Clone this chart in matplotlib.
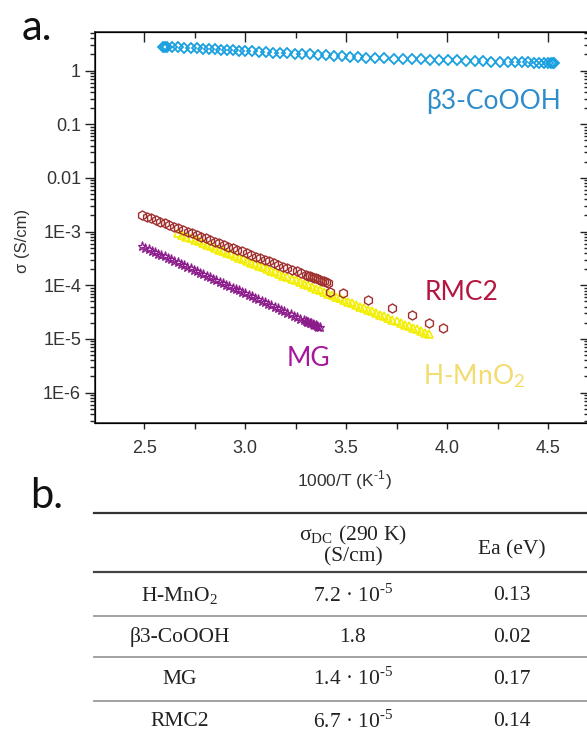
import numpy as np
import matplotlib.pyplot as plt
from matplotlib.ticker import MultipleLocator, LogLocator, NullFormatter
from matplotlib.lines import Line2D

# ---- panel a data: 1000/T (K^-1) and sigma (S/cm) ----
coooh_x = [2.595, 2.603, 2.615, 2.64, 2.67, 2.70, 2.73, 2.76, 2.79, 2.82, 2.85,
           2.88, 2.91, 2.94, 2.97, 3.00, 3.035, 3.07, 3.105, 3.14, 3.175, 3.21,
           3.245, 3.28, 3.32, 3.36, 3.40, 3.44, 3.48, 3.52, 3.56, 3.60, 3.645,
           3.69, 3.735, 3.78, 3.825, 3.87, 3.915, 3.96, 4.005, 4.05, 4.095,
           4.14, 4.18, 4.22, 4.26, 4.30, 4.335, 4.37, 4.40, 4.43, 4.455, 4.48,
           4.50, 4.515, 4.525, 4.53]
coooh_y = [2.80, 2.79, 2.77, 2.74, 2.70, 2.67, 2.63, 2.59, 2.56, 2.52, 2.49,
           2.45, 2.42, 2.39, 2.36, 2.32, 2.29, 2.25, 2.21, 2.17, 2.14, 2.10,
           2.07, 2.03, 2.00, 1.95, 1.92, 1.88, 1.85, 1.81, 1.77, 1.74, 1.72,
           1.70, 1.68, 1.66, 1.64, 1.62, 1.60, 1.58, 1.57, 1.55, 1.53,
           1.51, 1.50, 1.48, 1.47, 1.46, 1.44, 1.43, 1.42, 1.41, 1.40, 1.39,
           1.38, 1.38, 1.38, 1.37]

rmc2_x = [2.490, 2.5125, 2.535, 2.5575, 2.580, 2.6025, 2.625, 2.6475, 2.670,
          2.6925, 2.715, 2.7375, 2.760, 2.7825, 2.805, 2.8275, 2.850, 2.8725,
          2.895, 2.9175, 2.940, 2.9625, 2.985, 3.0075, 3.030, 3.0525, 3.075,
          3.0975, 3.120, 3.1425, 3.165, 3.1875, 3.210, 3.2325, 3.255, 3.2775,
          3.300, 3.31, 3.32, 3.33, 3.34, 3.35, 3.36, 3.37, 3.38, 3.39, 3.40,
          3.41, 3.42, 3.487, 3.611, 3.726, 3.825, 3.912, 3.981]
rmc2_y = [2.056e-3, 1.914e-3, 1.782e-3, 1.660e-3, 1.545e-3, 1.439e-3, 1.340e-3,
          1.247e-3, 1.161e-3, 1.081e-3, 1.005e-3, 9.35e-4, 8.71e-4, 8.11e-4,
          7.55e-4, 7.03e-4, 6.55e-4, 6.10e-4, 5.68e-4, 5.28e-4, 4.92e-4,
          4.58e-4, 4.27e-4, 3.97e-4, 3.70e-4, 3.44e-4, 3.21e-4, 2.99e-4,
          2.78e-4, 2.58e-4, 2.41e-4, 2.24e-4, 2.08e-4, 1.94e-4, 1.81e-4,
          1.68e-4, 1.57e-4, 1.52e-4, 1.47e-4, 1.43e-4, 1.38e-4, 1.34e-4,
          1.29e-4, 1.26e-4, 1.22e-4, 1.18e-4, 1.14e-4, 1.10e-4, 7.4e-5,
          7.1e-5, 5.4e-5, 3.7e-5, 2.8e-5, 2.0e-5, 1.6e-5]

mno2_x = [2.67, 2.69, 2.71, 2.73, 2.75, 2.77, 2.79, 2.81, 2.83, 2.85, 2.87,
          2.89, 2.91, 2.93, 2.95, 2.97, 2.99, 3.01, 3.03, 3.05, 3.07, 3.09,
          3.11, 3.13, 3.15, 3.17, 3.19, 3.21, 3.23, 3.25, 3.27, 3.29, 3.31,
          3.33, 3.35, 3.37, 3.39, 3.41, 3.43, 3.45, 3.47, 3.49, 3.51, 3.53,
          3.55, 3.57, 3.59, 3.61, 3.63, 3.65, 3.67, 3.69, 3.71, 3.73, 3.75,
          3.77, 3.79, 3.81, 3.83, 3.85, 3.87, 3.89, 3.91]
mno2_y = [9.33e-4, 8.70e-4, 8.11e-4, 7.56e-4, 7.05e-4, 6.58e-4, 6.13e-4,
          5.72e-4, 5.33e-4, 4.97e-4, 4.64e-4, 4.32e-4, 4.03e-4, 3.76e-4,
          3.51e-4, 3.27e-4, 3.05e-4, 2.84e-4, 2.65e-4, 2.47e-4, 2.31e-4,
          2.15e-4, 2.01e-4, 1.87e-4, 1.74e-4, 1.63e-4, 1.52e-4, 1.41e-4,
          1.32e-4, 1.23e-4, 1.15e-4, 1.07e-4, 9.97e-5, 9.30e-5, 8.67e-5,
          8.08e-5, 7.54e-5, 7.03e-5, 6.55e-5, 6.11e-5, 5.70e-5, 5.31e-5,
          4.95e-5, 4.62e-5, 4.31e-5, 4.02e-5, 3.75e-5, 3.49e-5, 3.26e-5,
          3.04e-5, 2.83e-5, 2.64e-5, 2.46e-5, 2.30e-5, 2.14e-5, 2.00e-5,
          1.86e-5, 1.74e-5, 1.62e-5, 1.51e-5, 1.41e-5, 1.31e-5, 1.22e-5]

mg_x = [2.490, 2.506, 2.522, 2.538, 2.554, 2.570, 2.586, 2.602, 2.618, 2.634,
        2.650, 2.666, 2.682, 2.698, 2.714, 2.730, 2.746, 2.762, 2.778, 2.794,
        2.810, 2.826, 2.842, 2.858, 2.874, 2.890, 2.906, 2.922, 2.938, 2.954,
        2.970, 2.986, 3.002, 3.018, 3.034, 3.050, 3.066, 3.082, 3.098, 3.114,
        3.130, 3.146, 3.162, 3.178, 3.194, 3.210, 3.226, 3.242, 3.258, 3.274,
        3.290, 3.300, 3.307, 3.314, 3.321, 3.328, 3.335, 3.342, 3.349, 3.356,
        3.363, 3.370]
mg_y = [5.37e-4, 5.04e-4, 4.73e-4, 4.44e-4, 4.17e-4, 3.91e-4, 3.67e-4,
        3.45e-4, 3.24e-4, 3.04e-4, 2.85e-4, 2.68e-4, 2.51e-4, 2.36e-4,
        2.21e-4, 2.08e-4, 1.95e-4, 1.83e-4, 1.72e-4, 1.61e-4, 1.51e-4,
        1.42e-4, 1.33e-4, 1.25e-4, 1.17e-4, 1.10e-4, 1.03e-4, 9.70e-5,
        9.10e-5, 8.54e-5, 8.02e-5, 7.53e-5, 7.06e-5, 6.63e-5, 6.22e-5,
        5.84e-5, 5.48e-5, 5.14e-5, 4.83e-5, 4.53e-5, 4.25e-5, 3.99e-5,
        3.75e-5, 3.52e-5, 3.30e-5, 3.10e-5, 2.91e-5, 2.73e-5, 2.56e-5,
        2.40e-5, 2.26e-5, 2.17e-5, 2.11e-5, 2.06e-5, 2.00e-5, 1.95e-5,
        1.89e-5, 1.84e-5, 1.79e-5, 1.74e-5, 1.70e-5, 1.65e-5]

x_ticks = [2.5, 3.0, 3.5, 4.0, 4.5]
y_ticks = [1e-6, 1e-5, 1e-4, 1e-3, 1e-2, 1e-1, 1]
y_tick_labels = ['1E-6', '1E-5', '1E-4', '1E-3', '0.01', '0.1', '1']

# ---- panel b table ----
HY = '\u2010'  # short hyphen for the exponents
table_header = ['', r'σ$_{\mathregular{DC}}$ (290 K)' + '\n(S/cm)', 'Ea (eV)']
table_names = [r'H-MnO$_{\mathregular{2}}$', 'β3-CoOOH', 'MG', 'RMC2']
table_sigma = [r'7.2 · 10$^{\mathregular{' + HY + '5}}$', '1.8',
               r'1.4 · 10$^{\mathregular{' + HY + '5}}$',
               r'6.7 · 10$^{\mathregular{' + HY + '5}}$']
table_ea = ['0.13', '0.02', '0.17', '0.14']

W, H = 587, 736
fig = plt.figure(figsize=(W / 100, H / 100), dpi=100)
plt.rcParams['mathtext.fontset'] = 'stix'

ax = fig.add_axes([95 / W, 1 - 423 / H, (588 - 95) / W, (423 - 32) / H])
xlim = (2.257, 4.698)
ylim = (2.72e-7, 5.25)

ax.plot(mno2_x, mno2_y, '^', ms=5.5, mfc='none', mec='#F2EE00', mew=1.2, zorder=2)
ax.plot(rmc2_x, rmc2_y, 'h', ms=6.5, mfc='none', mec='#A0302E', mew=1.0, zorder=3)
ax.plot(mg_x, mg_y, '*', ms=6.5, mfc='none', mec='#8C1C8C', mew=0.9, zorder=3)
ax.plot(coooh_x, coooh_y, 'D', ms=5.5, mfc='none', mec='#1AA0E0', mew=1.3, zorder=3)

ax.set_yscale('log')
ax.set_xlim(xlim)
ax.set_ylim(ylim)
ax.set_xticks(x_ticks)
ax.set_xticklabels([f'{v:.1f}' for v in x_ticks])
ax.xaxis.set_minor_locator(MultipleLocator(0.25))
ax.set_yticks(y_ticks)
ax.set_yticklabels(y_tick_labels)
ax.yaxis.set_minor_locator(LogLocator(base=10, subs=np.arange(2, 10), numticks=20))
ax.yaxis.set_minor_formatter(NullFormatter())

ax.tick_params(axis='both', which='both', direction='out', top=False, right=False,
               width=1.0, color='#222222', labelcolor='#333333', labelsize=13)
ax.tick_params(axis='y', which='major', length=7, pad=3)
ax.tick_params(axis='y', which='minor', length=3.5)
ax.tick_params(axis='x', which='major', length=4, pad=8)
ax.tick_params(axis='x', which='minor', length=4)
for lab in ax.get_xticklabels() + ax.get_yticklabels():
    lab.set_fontfamily('Liberation Sans')
for s in ax.spines.values():
    s.set_linewidth(1.1)
    s.set_color('#222222')

# mirrored ticks pointing inwards on top and right
axt = ax.twiny()
axt.set_xlim(xlim)
axt.set_xticks(x_ticks)
axt.xaxis.set_minor_locator(MultipleLocator(0.25))
axt.tick_params(axis='x', which='both', direction='in', labeltop=False, width=1.0,
                color='#222222')
axt.tick_params(axis='x', which='major', length=7)
axt.tick_params(axis='x', which='minor', length=4)
axr = ax.twinx()
axr.set_yscale('log')
axr.set_ylim(ylim)
axr.set_yticks(y_ticks)
axr.yaxis.set_minor_locator(LogLocator(base=10, subs=np.arange(2, 10), numticks=20))
axr.tick_params(axis='y', which='both', direction='in', labelright=False, width=1.0,
                color='#222222')
axr.tick_params(axis='y', which='major', length=6)
axr.tick_params(axis='y', which='minor', length=3)

lab_font = ['Lato', 'Open Sans', 'DejaVu Sans']
fig.text(493 / W, 1 - 101 / H, 'β3-CoOOH', family=lab_font, size=19,
         color='#2D8DCB', ha='center', va='center')
fig.text(462 / W, 1 - 292 / H, 'RMC2', family=lab_font, size=19,
         color='#B5163F', ha='center', va='center')
fig.text(308 / W, 1 - 358 / H, 'MG', family=lab_font, size=19,
         color='#A5189C', ha='center', va='center')
fig.text(423 / W, 1 - 376 / H, r'H-MnO$_{\mathregular{2}}$', family=lab_font, size=19,
         color='#F2DC6E', ha='left', va='center')

fig.text(23 / W, 1 - 241 / H, 'σ (S/cm)', family='Liberation Sans', size=12,
         color='#333333', rotation=90, ha='center', va='center')
fig.text(344 / W, 1 - 480 / H, r'1000/T (K$^{\mathregular{' + HY + '1}}$)',
         family='Liberation Sans', size=12.5, color='#333333', ha='center', va='center')

fig.text(22 / W, 1 - 40 / H, 'a.', family=lab_font, size=30, color='#111111',
         ha='left', va='baseline')
fig.text(30 / W, 1 - 508 / H, 'b.', family=lab_font, size=30, color='#111111',
         ha='left', va='baseline')

# ---- table ----
serif = 'Liberation Serif'
col_x = [180, 353, 512]
row_y = [596, 637, 679, 722]
fig.text(col_x[1] / W, 1 - 545 / H, table_header[1], family=serif, size=15.5,
         ha='center', va='center', linespacing=1.0, color='#222222')
fig.text(col_x[2] / W, 1 - 550 / H, table_header[2], family=serif, size=15.5,
         ha='center', va='center', color='#222222')
for i, yy in enumerate(row_y):
    fig.text(col_x[0] / W, 1 - yy / H, table_names[i], family=serif, size=15.5,
             ha='center', va='center', color='#222222')
    fig.text(col_x[1] / W, 1 - yy / H, table_sigma[i], family=serif, size=15.5,
             ha='center', va='center', color='#222222')
    fig.text(col_x[2] / W, 1 - yy / H, table_ea[i], family=serif, size=15.5,
             ha='center', va='center', color='#222222')

for yy, c, lw in [(513, '#333333', 1.6), (572, '#444444', 1.6), (616, '#9a9a9a', 1.3),
                  (657, '#9a9a9a', 1.3), (701, '#9a9a9a', 1.3)]:
    fig.add_artist(Line2D([94 / W, 1.0], [1 - yy / H, 1 - yy / H], color=c, lw=lw,
                          transform=fig.transFigure))

fig.savefig('out.png', dpi=100)
